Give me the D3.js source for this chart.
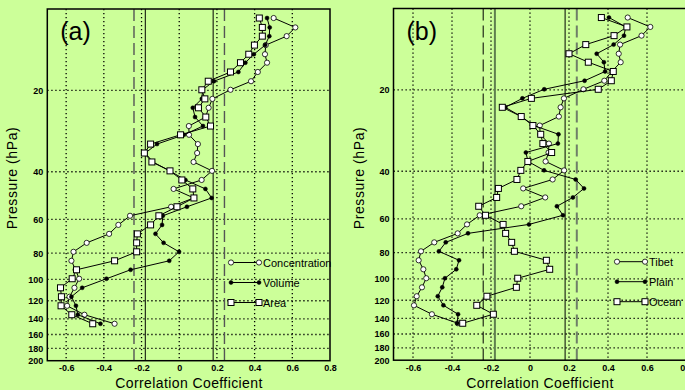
<!DOCTYPE html>
<html>
<head>
<meta charset="utf-8">
<script src="https://d3js.org/d3.v7.min.js"></script>
<style>
  body { margin: 0; background: #ccff99; }
  svg { display: block; }
  text { font-family: "Liberation Sans", Arial, sans-serif; }
</style>
</head>
<body>
<svg id="chart" width="685" height="390"></svg>
<script>
// pressure levels (hPa), bottom to top
var pressure = [146.0, 135.2, 125.3, 116.0, 107.5, 99.5, 92.2, 85.4, 79.1, 73.3, 67.9, 62.9,
  58.2, 53.9, 50.0, 46.3, 42.9, 39.7, 36.8, 34.1, 31.6, 29.2, 27.1, 25.1, 23.2, 21.5,
  19.9, 18.5, 17.1, 15.8, 14.7, 13.6, 12.6, 11.7, 10.8];

// panel (a)
var concentration = [-0.343, -0.503, -0.595, -0.582, -0.556, -0.531, -0.55, -0.572, -0.561, -0.491,
  -0.372, -0.323, -0.261, -0.043, 0.077, -0.030, 0.119, 0.174, 0.076, 0.095, 0.099, 0.052,
  0.051, 0.14, 0.156, 0.176, 0.272, 0.381, 0.417, 0.466, 0.455, 0.459, 0.570, 0.616, 0.501];
var volume = [-0.418, -0.538, -0.548, -0.572, -0.515, -0.386, -0.258, -0.053, -0.001, -0.083,
  -0.126, -0.091, -0.087, 0.041, 0.172, 0.139, 0.033, -0.05, -0.14, -0.18, -0.118, 0.025,
  0.126, 0.084, 0.072, 0.120, 0.124, 0.184, 0.314, 0.351, 0.396, 0.456, 0.478, 0.480, 0.466];
var area = [-0.459, -0.570, -0.627, -0.625, -0.630, -0.568, -0.545, -0.343, -0.226, -0.226,
  -0.222, -0.152, -0.108, -0.012, 0.078, 0.072, 0.014, -0.049, -0.145, -0.185, -0.152, 0.007,
  0.166, 0.141, 0.102, 0.136, 0.120, 0.154, 0.272, 0.325, 0.369, 0.399, 0.441, 0.441, 0.425];

// panel (b)
var tibet = [-0.37, -0.503, -0.595, -0.581, -0.554, -0.532, -0.547, -0.571, -0.559, -0.491,
  -0.371, -0.323, -0.258, -0.045, 0.078, -0.035, 0.116, 0.175, 0.080, 0.095, 0.097, 0.052,
  0.050, 0.148, 0.157, 0.174, 0.274, 0.381, 0.42, 0.465, 0.455, 0.462, 0.572, 0.617, 0.501];
var plain = [-0.373, -0.369, -0.444, -0.473, -0.450, -0.436, -0.378, -0.364, -0.467, -0.432,
  -0.318, -0.005, 0.169, 0.138, 0.220, 0.277, 0.234, 0.072, -0.010, -0.021, 0.143, 0.146,
  0.020, -0.045, -0.127, -0.039, 0.073, 0.280, 0.385, 0.379, 0.342, 0.429, 0.482, 0.491, 0.405];
var ocean = [-0.345, -0.188, -0.273, -0.221, -0.070, -0.063, 0.101, 0.084, -0.080, -0.094,
  -0.125, -0.138, -0.228, -0.263, -0.171, -0.162, -0.067, -0.047, -0.011, 0.111, 0.066, 0.055,
  0.015, -0.045, -0.142, 0.007, 0.350, 0.417, 0.427, 0.299, 0.200, 0.286, 0.431, 0.497, 0.366];

var xTicks = [-0.6, -0.4, -0.2, 0, 0.2, 0.4, 0.6, 0.8];
var yTicks = [20, 40, 60, 80, 100, 120, 140, 160, 180, 200];
var sigLines = [-0.24, -0.18, 0.18, 0.24];

var svg = d3.select("#chart");

function drawPanel(opt) {
  var x = d3.scaleLinear().domain([-0.7, 0.8]).range([opt.left, opt.right]);
  var y = d3.scaleLog().domain([10, 200]).range([opt.top, opt.bottom]);
  var g = svg.append("g");

  // dotted grid
  g.selectAll(".vg").data(xTicks.filter(function(d) { return d < 0.8; }))
    .enter().append("line")
    .attr("x1", function(d) { return x(d); }).attr("x2", function(d) { return x(d); })
    .attr("y1", opt.top).attr("y2", opt.bottom)
    .attr("stroke", "#000").attr("stroke-width", 1.3).attr("stroke-dasharray", "1.3,2.7");
  g.selectAll(".hg").data(yTicks.filter(function(d) { return d < 200; }))
    .enter().append("line")
    .attr("x1", opt.left).attr("x2", opt.right)
    .attr("y1", function(d) { return y(d); }).attr("y2", function(d) { return y(d); })
    .attr("stroke", "#000").attr("stroke-width", 1.3).attr("stroke-dasharray", "1.3,2.7");

  // significance lines
  sigLines.forEach(function(v, i) {
    var st = opt.sig[i];
    g.append("line")
      .attr("x1", x(v)).attr("x2", x(v)).attr("y1", opt.top).attr("y2", opt.bottom)
      .attr("stroke", st.c).attr("stroke-width", st.w)
      .attr("stroke-dasharray", st.dash ? "12,5" : null);
  });

  // frame
  g.append("rect").attr("x", opt.left).attr("y", opt.top)
    .attr("width", opt.right - opt.left).attr("height", opt.bottom - opt.top)
    .attr("fill", "none").attr("stroke", "#000").attr("stroke-width", 1.5);

  // axes (labels only)
  var ax = g.append("g").attr("transform", "translate(0," + opt.bottom + ")")
    .call(d3.axisBottom(x).tickValues(xTicks).tickSize(0).tickPadding(4)
      .tickFormat(function(d) { return d === 0 ? "0" : d.toFixed(1); }));
  var ay = g.append("g").attr("transform", "translate(" + opt.left + ",0)")
    .call(d3.axisLeft(y).tickValues(yTicks).tickSize(0).tickPadding(4).tickFormat(d3.format("d")));
  [ax, ay].forEach(function(a) {
    a.select(".domain").remove();
    a.selectAll("text").attr("font-size", 9).attr("font-weight", "bold")
      .attr("font-family", "'Liberation Sans', Arial, sans-serif").attr("fill", "#000");
  });

  // series
  var line = d3.line().x(function(d) { return x(d[0]); }).y(function(d) { return y(d[1]); });
  opt.series.forEach(function(s) {
    var pts = s.values.map(function(v, i) { return [v, pressure[i]]; });
    g.append("path").datum(pts).attr("d", line)
      .attr("fill", "none").attr("stroke", "#000").attr("stroke-width", 1);
    drawMarkers(g, pts.map(function(p) { return [x(p[0]), y(p[1])]; }), s.marker);
  });

  // legend
  opt.series.forEach(function(s, i) {
    var ly = opt.legY + i * 20;
    g.append("line").attr("x1", opt.legX).attr("x2", opt.legX + 28)
      .attr("y1", ly).attr("y2", ly).attr("stroke", "#000").attr("stroke-width", 1);
    drawMarkers(g, [[opt.legX, ly], [opt.legX + 28, ly]], s.marker);
    g.append("text").attr("x", opt.legX + 32).attr("y", ly + 4)
      .attr("font-size", 11).text(s.name);
  });

  // panel label
  g.append("text").attr("x", opt.left + 13).attr("y", opt.top + 31)
    .attr("font-size", 25).text(opt.label);

  // axis titles
  g.append("text").attr("x", opt.titleX).attr("y", 388)
    .attr("text-anchor", "middle").attr("font-size", 14).attr("letter-spacing", 0.4)
    .text("Correlation Coefficient");
  g.append("text")
    .attr("transform", "translate(" + (opt.left - 30) + ",178) rotate(-90)")
    .attr("text-anchor", "middle").attr("font-size", 14).attr("letter-spacing", 0.6)
    .text("Pressure (hPa)");
}

function drawMarkers(g, pts, type) {
  if (type === "square") {
    g.selectAll(null).data(pts).enter().append("rect")
      .attr("x", function(d) { return d[0] - 3; }).attr("y", function(d) { return d[1] - 3; })
      .attr("width", 6).attr("height", 6)
      .attr("fill", "#fff").attr("stroke", "#000").attr("stroke-width", 1);
  } else {
    g.selectAll(null).data(pts).enter().append("circle")
      .attr("cx", function(d) { return d[0]; }).attr("cy", function(d) { return d[1]; })
      .attr("r", type === "filled" ? 2 : 2.6)
      .attr("fill", type === "filled" ? "#000" : "#fff")
      .attr("stroke", "#000").attr("stroke-width", type === "filled" ? 0.5 : 0.8);
  }
}

drawPanel({
  label: "(a)", left: 47.3, right: 330, top: 9, bottom: 360.7,
  legX: 231, legY: 262.5, titleX: 189,
  sig: [
    { c: "#555", w: 1.4, dash: true },
    { c: "#000", w: 1, dash: false },
    { c: "#000", w: 1, dash: false },
    { c: "#555", w: 1.4, dash: true }
  ],
  series: [
    { name: "Concentration", values: concentration, marker: "open" },
    { name: "Volume", values: volume, marker: "filled" },
    { name: "Area", values: area, marker: "square" }
  ]
});

drawPanel({
  label: "(b)", left: 393.5, right: 686, top: 8.5, bottom: 360.2,
  legX: 617, legY: 261.7, titleX: 540,
  sig: [
    { c: "#000", w: 1, dash: true },
    { c: "#5f7f4f", w: 2, dash: false },
    { c: "#000", w: 1, dash: false },
    { c: "#6f7f68", w: 2, dash: true }
  ],
  series: [
    { name: "Tibet", values: tibet, marker: "open" },
    { name: "Plain", values: plain, marker: "filled" },
    { name: "Ocean", values: ocean, marker: "square" }
  ]
});
</script>
</body>
</html>
